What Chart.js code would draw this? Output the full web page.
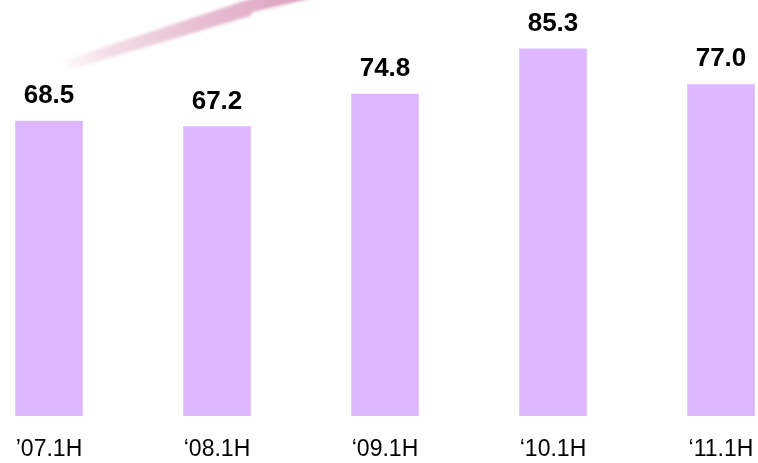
<!DOCTYPE html>
<html>
<head>
<meta charset="utf-8">
<script src="https://cdn.jsdelivr.net/npm/chart.js@4"></script>
<style>
  html, body { margin: 0; padding: 0; background: #ffffff; overflow: hidden; }
  #wrap { position: relative; width: 758px; height: 463px; overflow: hidden; }
  #chart { position: absolute; left: -35px; top: 0; }
</style>
</head>
<body>
<div id="wrap"><canvas id="chart" width="840" height="463"></canvas></div>
<script>
// Half-year figures
const periods = ['\u201907.1H', '\u201808.1H', '\u201809.1H', '\u201810.1H', '\u201811.1H'];
const values = [68.5, 67.2, 74.8, 85.3, 77.0];

const FONT = '"Liberation Sans", Arial, Helvetica, sans-serif';
const SHIFT = 35; // canvas starts 35px left of the page edge

// Decorative pink swoosh in the upper-left corner
const swoosh = {
  id: 'swoosh',
  beforeDraw(chart) {
    const ctx = chart.ctx;
    ctx.save();
    ctx.translate(SHIFT, 0);
    const g = ctx.createLinearGradient(64, 64, 310, -5);
    g.addColorStop(0, 'rgba(245,228,235,0.2)');
    g.addColorStop(0.15, 'rgba(240,214,225,0.75)');
    g.addColorStop(0.5, 'rgba(232,194,211,1)');
    g.addColorStop(0.8, 'rgba(225,175,199,1)');
    g.addColorStop(1, 'rgba(214,154,183,1)');
    ctx.fillStyle = g;
    ctx.filter = 'blur(1.5px)';
    ctx.beginPath();
    ctx.moveTo(62, 61);
    ctx.lineTo(250, -1);
    ctx.lineTo(300, -18);
    ctx.lineTo(312, -18);
    ctx.lineTo(312, -2);
    ctx.lineTo(253, 12);
    ctx.lineTo(250, 16);
    ctx.lineTo(72, 69);
    ctx.closePath();
    ctx.fill();
    ctx.restore();
  }
};

// Value labels above each bar
const valueLabels = {
  id: 'valueLabels',
  afterDatasetsDraw(chart) {
    const ctx = chart.ctx;
    const meta = chart.getDatasetMeta(0);
    ctx.save();
    ctx.font = 'bold 26px ' + FONT;
    ctx.fillStyle = '#000000';
    ctx.textAlign = 'center';
    ctx.textBaseline = 'alphabetic';
    meta.data.forEach((bar, i) => {
      ctx.fillText(values[i].toFixed(1), bar.x, bar.y - 18);
    });
    ctx.restore();
  }
};

new Chart(document.getElementById('chart'), {
  type: 'bar',
  data: {
    labels: periods,
    datasets: [{
      data: values,
      backgroundColor: '#DDB8FF',
      borderWidth: 0,
      barThickness: 67
    }]
  },
  options: {
    responsive: false,
    animation: false,
    layout: { padding: { left: 0, right: 0, top: 7, bottom: 0 } },
    plugins: { legend: { display: false }, tooltip: { enabled: false } },
    scales: {
      x: {
        offset: true,
        grid: { display: false, drawTicks: false },
        border: { display: false },
        ticks: {
          color: '#000000',
          font: { family: FONT, size: 23 },
          padding: 20,
          maxRotation: 0,
          autoSkip: false
        },
        afterFit(scale) { scale.height = 47; }
      },
      y: {
        display: false,
        min: 0,
        max: 95
      }
    }
  },
  plugins: [swoosh, valueLabels]
});
</script>
</body>
</html>
